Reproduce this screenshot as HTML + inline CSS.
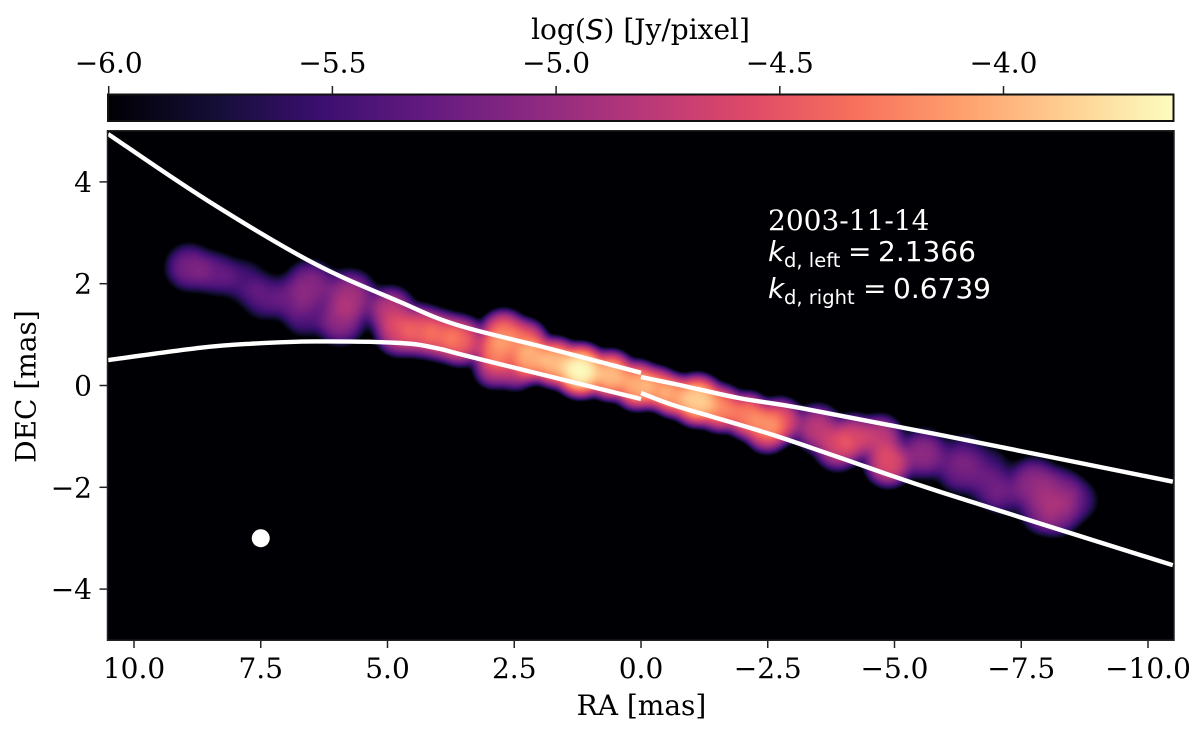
<!DOCTYPE html>
<html>
<head>
<meta charset="utf-8">
<title>Jet map</title>
<style>
html,body{margin:0;padding:0;background:#fff;width:1200px;height:731px;overflow:hidden}
#wrap{position:relative;width:1200px;height:731px}
#heat{position:absolute;left:108px;top:131px;width:1066px;height:509px}
#ov{position:absolute;left:0;top:0}
text{font-family:"DejaVu Serif","Liberation Serif",serif;font-size:28px;fill:#000}
.sans{font-family:"DejaVu Sans","Liberation Sans",sans-serif}
.note{fill:#fff}
</style>
</head>
<body>
<div id="wrap">
<canvas id="heat" width="1066" height="509"></canvas>
<svg id="ov" width="1200" height="731" viewBox="0 0 1200 731" xmlns="http://www.w3.org/2000/svg">
  <defs>
    <linearGradient id="cbGrad" x1="0" y1="0" x2="1" y2="0"></linearGradient>
    <clipPath id="axClip"><rect x="108" y="131" width="1066" height="509"></rect></clipPath>
  </defs>
  <rect id="cbRect" x="108" y="94.5" width="1065.5" height="26.5" fill="url(#cbGrad)" stroke="#111" stroke-width="2"></rect>
  <g id="curves" clip-path="url(#axClip)"></g>
  <circle id="beam" r="9" fill="#fff"></circle>
  <rect x="107.5" y="130.75" width="1066.5" height="509.5" fill="none" stroke="#222" stroke-width="1.5"></rect>
  <g id="ticks"></g>

  <text x="640.5" y="39" text-anchor="middle">log(<tspan class="sans" font-style="italic">S</tspan>) [Jy/pixel]</text>
  <text x="641.5" y="715" text-anchor="middle">RA [mas]</text>
  <text x="0" y="0" text-anchor="middle" transform="translate(35.5 386.5) rotate(-90)">DEC [mas]</text>

  <text class="note" x="768" y="230">2003-11-14</text>
  <g>
    <text class="note sans" x="768" y="261" font-style="italic">k</text>
    <text class="note sans" x="784" y="267" style="font-size:19.5px">d, left</text>
    <text class="note sans" x="848" y="261">=</text>
    <text class="note sans" x="878" y="261">2.1366</text>
  </g>
  <g>
    <text class="note sans" x="768" y="298" font-style="italic">k</text>
    <text class="note sans" x="784" y="304" style="font-size:19.5px">d, right</text>
    <text class="note sans" x="863" y="298">=</text>
    <text class="note sans" x="893" y="298">0.6739</text>
  </g>
</svg>
</div>
<script>
// ---- chart data ----
const xTickValues = [10, 7.5, 5, 2.5, 0, -2.5, -5, -7.5, -10];
const xTickLabels = ["10.0", "7.5", "5.0", "2.5", "0.0", "\u22122.5", "\u22125.0", "\u22127.5", "\u221210.0"];
const yTickValues = [4, 2, 0, -2, -4];
const yTickLabels = ["4", "2", "0", "\u22122", "\u22124"];
const cbTickValues = [-6, -5.5, -5, -4.5, -4];
const cbTickLabels = ["\u22126.0", "\u22125.5", "\u22125.0", "\u22124.5", "\u22124.0"];

const colorMin = -6.0;
const colorMax = -3.62;
const magma = ["#000004","#140e36","#3b0f70","#641a80","#8c2981","#b73779","#de4968","#f7705c","#fe9f6d","#fecf92","#fcfdbf"];

// Emission components: RA [mas], DEC [mas], peak log10(S), width [mas]
const blobRA = [8.93,8.40,7.85,7.32,7.51,6.53,6.92,5.74,5.94,6.67,4.95,4.79,4.36,3.96,3.57,2.72,2.84,2.92,2.29,2.49,2.19,1.70,1.20,0.61,0.08,-0.32,-0.63,-1.10,-1.56,-2.09,-2.45,-2.74,-2.49,-3.47,-3.87,-4.18,-4.71,-4.87,-5.56,-6.29,-6.39,-6.88,-6.88,-7.14,-7.73,-7.87,-8.20,-8.26,-8.60];
const blobDec = [2.33,2.21,2.07,1.78,1.68,1.97,1.68,1.78,1.29,1.35,1.48,1.05,1.09,0.99,0.89,1.03,0.70,0.34,0.89,0.30,0.56,0.46,0.30,0.21,0.01,-0.05,-0.19,-0.28,-0.44,-0.58,-0.78,-0.68,-0.93,-0.83,-1.21,-1.01,-1.01,-1.52,-1.33,-1.66,-1.27,-1.99,-1.56,-2.19,-1.92,-2.49,-2.50,-2.05,-2.25];
const blobLogS = [-5.2,-5.35,-5.5,-5.6,-5.7,-5.1,-5.55,-4.95,-5.05,-5.45,-4.8,-4.7,-4.55,-4.55,-4.45,-4.35,-4.3,-4.85,-4.5,-4.9,-4.1,-4.0,-3.64,-3.98,-4.05,-4.25,-4.2,-3.88,-4.25,-4.3,-4.45,-4.55,-4.85,-4.8,-4.75,-4.7,-4.8,-4.6,-5.05,-5.25,-5.6,-5.4,-5.6,-5.55,-5.05,-5.3,-5.15,-5.25,-5.45];
const blobWidth = [0.40,0.38,0.40,0.40,0.38,0.42,0.36,0.40,0.40,0.36,0.36,0.34,0.36,0.34,0.34,0.32,0.32,0.30,0.30,0.30,0.32,0.31,0.32,0.31,0.31,0.28,0.28,0.32,0.31,0.31,0.31,0.32,0.30,0.36,0.34,0.34,0.34,0.34,0.40,0.40,0.36,0.38,0.36,0.34,0.42,0.36,0.38,0.38,0.38];
const blobProfilePower = 2.6;

// Jet boundary curves
const upperLeftRA = [10.51,8.56,6.47,4.75,3.63,1.79,0];
const upperLeftDec = [4.94,3.64,2.41,1.64,1.19,0.72,0.25];
const lowerLeftRA = [10.51,8.70,7.71,6.43,4.75,4.02,3.31,0];
const lowerLeftDec = [0.50,0.74,0.82,0.865,0.835,0.73,0.55,-0.265];
const upperRightRA = [0,-0.76,-1.95,-3.14,-5.90,-10.49];
const upperRightDec = [0.167,0.01,-0.25,-0.44,-0.97,-1.89];
const lowerRightRA = [0,-0.62,-1.29,-2.60,-3.93,-5.90,-10.49];
const lowerRightDec = [-0.147,-0.38,-0.58,-0.97,-1.42,-2.09,-3.53];

const beamRA = 7.5;
const beamDec = -3;

// ---- axis functions ----
function xScale(ra){ return 641 - ra * 50.7; }
function yScale(dec){ return 385.5 - dec * 50.9; }
function cScale(v){ return 108.7 + (v - colorMin) * 447.4; }

const NS = "http://www.w3.org/2000/svg";

function hexRGB(h){
  return [parseInt(h.substr(1,2),16), parseInt(h.substr(3,2),16), parseInt(h.substr(5,2),16)];
}
const magmaRGB = magma.map(hexRGB);
function cmap(t){
  t = Math.max(0, Math.min(1, t));
  const p = t * (magmaRGB.length - 1);
  const i = Math.min(magmaRGB.length - 2, Math.floor(p));
  const f = p - i;
  const a = magmaRGB[i], b = magmaRGB[i + 1];
  return [a[0] + (b[0] - a[0]) * f, a[1] + (b[1] - a[1]) * f, a[2] + (b[2] - a[2]) * f];
}

// colorbar gradient
const grad = document.getElementById("cbGrad");
magma.forEach(function(c, i){
  const s = document.createElementNS(NS, "stop");
  s.setAttribute("offset", (i / (magma.length - 1) * 100) + "%");
  s.setAttribute("stop-color", c);
  grad.appendChild(s);
});

// heat map
(function(){
  const cv = document.getElementById("heat");
  const ctx = cv.getContext("2d");
  const W = cv.width, H = cv.height;
  const img = ctx.createImageData(W, H);
  const n = blobRA.length;
  const field = new Float64Array(W * H);
  const halfPower = blobProfilePower / 2;
  for (let k = 0; k < n; k++) {
    const bx = xScale(blobRA[k]) - 108;
    const by = yScale(blobDec[k]) - 131;
    const amp = Math.pow(10, blobLogS[k]);
    const rho = blobWidth[k] * 50.8;
    const reach = rho * 3;
    const x0 = Math.max(0, Math.floor(bx - reach)), x1 = Math.min(W - 1, Math.ceil(bx + reach));
    const y0 = Math.max(0, Math.floor(by - reach)), y1 = Math.min(H - 1, Math.ceil(by + reach));
    for (let y = y0; y <= y1; y++) {
      for (let x = x0; x <= x1; x++) {
        const dx = x - bx, dy = y - by;
        field[y * W + x] += amp * Math.exp(-Math.pow((dx * dx + dy * dy) / (rho * rho), halfPower));
      }
    }
  }
  const span = colorMax - colorMin;
  for (let i = 0; i < W * H; i++) {
    const v = field[i] > 0 ? Math.log10(field[i]) : -99;
    const c = cmap((v - colorMin) / span);
    img.data[i * 4] = c[0];
    img.data[i * 4 + 1] = c[1];
    img.data[i * 4 + 2] = c[2];
    img.data[i * 4 + 3] = 255;
  }
  ctx.putImageData(img, 0, 0);
})();

// boundary curves (smooth Catmull-Rom through the read points)
function smoothPath(ra, dec){
  const p = ra.map(function(r, i){ return [xScale(r), yScale(dec[i])]; });
  let d = "M" + p[0][0].toFixed(2) + " " + p[0][1].toFixed(2);
  for (let i = 0; i < p.length - 1; i++) {
    const a = p[Math.max(0, i - 1)], b = p[i], c = p[i + 1], e = p[Math.min(p.length - 1, i + 2)];
    const c1x = b[0] + (c[0] - a[0]) / 6, c1y = b[1] + (c[1] - a[1]) / 6;
    const c2x = c[0] - (e[0] - b[0]) / 6, c2y = c[1] - (e[1] - b[1]) / 6;
    d += "C" + c1x.toFixed(2) + " " + c1y.toFixed(2) + " " + c2x.toFixed(2) + " " + c2y.toFixed(2) + " " + c[0].toFixed(2) + " " + c[1].toFixed(2);
  }
  return d;
}
const curveGroup = document.getElementById("curves");
function addCurve(ra, dec, name){
  const path = document.createElementNS(NS, "path");
  path.setAttribute("d", smoothPath(ra, dec));
  path.setAttribute("fill", "none");
  path.setAttribute("stroke", "#fff");
  path.setAttribute("stroke-width", "4.4");
  
  
  curveGroup.appendChild(path);
}
addCurve(upperLeftRA, upperLeftDec, "upper-left-boundary");
addCurve(lowerLeftRA, lowerLeftDec, "lower-left-boundary");
addCurve(upperRightRA, upperRightDec, "upper-right-boundary");
addCurve(lowerRightRA, lowerRightDec, "lower-right-boundary");

// beam
const beamEl = document.getElementById("beam");
beamEl.setAttribute("cx", xScale(beamRA));
beamEl.setAttribute("cy", yScale(beamDec));

// ticks
const tickGroup = document.getElementById("ticks");
function addTick(x1, y1, x2, y2){
  const l = document.createElementNS(NS, "line");
  l.setAttribute("x1", x1);
  l.setAttribute("y1", y1);
  l.setAttribute("x2", x2);
  l.setAttribute("y2", y2);
  l.setAttribute("stroke", "#222");
  l.setAttribute("stroke-width", "1.5");
  
  
  tickGroup.appendChild(l);
}
function addLabel(x, y, anchor, str, name){
  const t = document.createElementNS(NS, "text");
  t.setAttribute("x", x);
  t.setAttribute("y", y);
  t.setAttribute("text-anchor", anchor);
  
  
  t.textContent = str;
  tickGroup.appendChild(t);
}
xTickValues.forEach(function(v, i){
  const x = xScale(v);
  addTick(x, 640, x, 648);
  addLabel(x, 678, "middle", xTickLabels[i], "x-tick-label");
});
yTickValues.forEach(function(v, i){
  const y = yScale(v);
  addTick(99.5, y, 107.5, y);
  addLabel(92, y + 10, "end", yTickLabels[i], "y-tick-label");
});
cbTickValues.forEach(function(v, i){
  const x = cScale(v);
  addTick(x, 86, x, 94);
  addLabel(x, 72.5, "middle", cbTickLabels[i], "colorbar-tick-label");
});
</script>
</body>
</html>
